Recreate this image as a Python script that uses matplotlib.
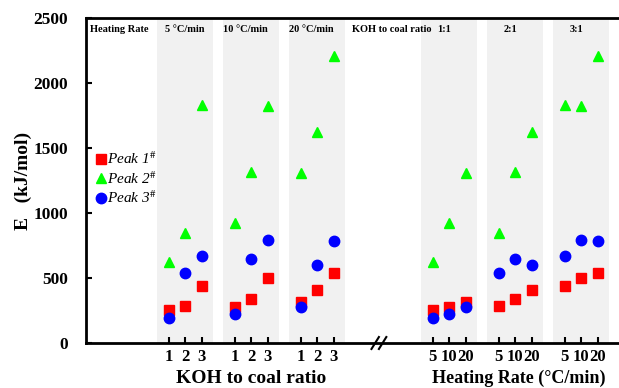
import numpy as np
import matplotlib
matplotlib.use('Agg')
import matplotlib.pyplot as plt

plt.rcParams['font.family'] = 'Liberation Serif'
plt.rcParams['mathtext.fontset'] = 'stix'

# activation energy, rows = heating rate (5, 10, 20 C/min), cols = KOH ratio (1, 2, 3)
peak1 = np.array([[254, 285, 441],
                  [279, 336, 502],
                  [318, 408, 535]])
peak2 = np.array([[621, 846, 1831],
                  [923, 1315, 1823],
                  [1308, 1623, 2208]])
peak3 = np.array([[195, 536, 669],
                  [223, 646, 792],
                  [279, 602, 785]])

ratio_ticks = ['1', '2', '3']
rate_ticks = ['5', '10', '20']
rate_titles = ['5 °C/min', '10 °C/min', '20 °C/min']
ratio_titles = ['1:1', '2:1', '3:1']

left_pos = [[0, 1, 2], [4, 5, 6], [8, 9, 10]]
right_pos = [[16, 17, 18], [20, 21, 22], [24, 25, 26]]

fig = plt.figure(figsize=(6.19, 3.88), dpi=100)
ax = fig.add_axes([86/619, 45/388, 1 - 86/619, (343-18)/388])

# shaded bands
for g in left_pos + right_pos:
    ax.axvspan(g[0] - 0.72, g[2] + 0.72, color='#f1f1f1', zorder=0, lw=0)

styles = [(peak1, 's', '#ff0000', 7, r'Peak 1$^{\#}$'),
          (peak2, '^', '#00ff00', 7.5, r'Peak 2$^{\#}$'),
          (peak3, 'o', '#0000ff', 7.5, r'Peak 3$^{\#}$')]

for data, m, c, ms, lab in styles:
    for i in range(3):
        # left: fixed heating rate, varying ratio
        ax.plot(left_pos[i], data[i, :], m, color=c, ms=ms, ls='none',
                label=lab if i == 0 else None, zorder=3)
        # right: fixed ratio, varying heating rate
        ax.plot(right_pos[i], data[:, i], m, color=c, ms=ms, ls='none', zorder=3)

ax.set_xlim(-5, 27.3)
ax.set_ylim(0, 2500)
ax.set_yticks([0, 500, 1000, 1500, 2000, 2500])
xt = sum(left_pos, []) + sum(right_pos, [])
ax.set_xticks(xt)
ax.set_xticklabels(ratio_ticks * 3 + rate_ticks * 3)
ax.tick_params(direction='in', length=4, width=1.5, labelsize=12.5)
for lbl in ax.get_xticklabels() + ax.get_yticklabels():
    lbl.set_fontweight('bold')
ax.tick_params(axis='x', pad=4, labelsize=12)
ax.tick_params(axis='y', pad=13)

for s in ['left', 'bottom', 'top']:
    ax.spines[s].set_linewidth(2)
ax.spines['right'].set_visible(False)

ax.set_ylabel('E   (kJ/mol)', fontsize=14, fontweight='bold', labelpad=1)

# group titles
ty = 2408
ax.text(-4.75, ty, 'Heating Rate', fontsize=7.5, fontweight='bold', va='center')
for i, t in enumerate(rate_titles):
    ax.text(left_pos[i][0] - 0.2 if i == 0 else left_pos[i][0] - 0.7, ty, t,
            fontsize=7.5, fontweight='bold', va='center')
ax.text(11.1, ty, 'KOH to coal ratio', fontsize=7.5, fontweight='bold', va='center')
for i, t in enumerate(ratio_titles):
    ax.text(right_pos[i][0] + 0.3 if i == 0 else right_pos[i][1] - 0.7, ty, t,
            fontsize=7.5, fontweight='bold', va='center')

# axis group labels
ax.text(5, -272, 'KOH to coal ratio', fontsize=14, fontweight='bold',
        ha='center', va='center')
ax.text(21.2, -272, 'Heating Rate (°C/min)', fontsize=13, fontweight='bold',
        ha='center', va='center')

# axis break mark
ax.plot([12.3, 12.75], [-46, 46], color='black', lw=1.5, clip_on=False)
ax.plot([12.75, 13.2], [-46, 46], color='black', lw=1.5, clip_on=False)

ax.legend(loc='upper left', bbox_to_anchor=(0.0, 0.625), frameon=False,
          handlelength=0.6, handletextpad=0.1, labelspacing=0.2,
          borderaxespad=0.3, prop={'style': 'italic', 'size': 11})

fig.savefig('out.png', dpi=100)
